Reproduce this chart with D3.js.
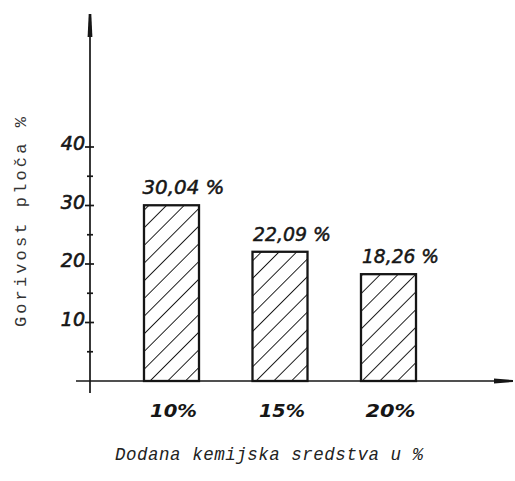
<!DOCTYPE html>
<html><head><meta charset="utf-8">
<script src="https://cdn.jsdelivr.net/npm/d3@7"></script>
<style>html,body{margin:0;padding:0;background:#fff;}svg{display:block;}</style>
</head><body>
<script>
const categories = ["10%", "15%", "20%"];
const values = [30.04, 22.09, 18.26];
const valueLabels = ["30,04 %", "22,09 %", "18,26 %"];
const majorTicks = [10, 20, 30, 40];
const minorTicks = [5, 15, 25, 35];
const xTitle = "Dodana kemijska sredstva u %";
const yTitle = "Gorivost ploča  %";

const W = 515, H = 481;
const ink = "#161616";
const svg = d3.select("body").append("svg").attr("width", W).attr("height", H);

const y = d3.scaleLinear().domain([0, 40]).range([381, 147]);
const x = d3.scaleBand().domain(categories).range([90.5, 469.5]).paddingInner(0.493).paddingOuter(0.493);
const axisX = 90;

// hatch pattern
const defs = svg.append("defs");
const pat = defs.append("pattern").attr("id", "hatch").attr("patternUnits", "userSpaceOnUse")
  .attr("width", 12.5).attr("height", 12.5).attr("patternTransform", "rotate(45)");
pat.append("line").attr("x1", 0).attr("y1", 0).attr("x2", 0).attr("y2", 12.5)
  .attr("stroke", ink).attr("stroke-width", 1.9);

// bars
svg.selectAll("rect.bar").data(values).join("rect").attr("class", "bar")
  .attr("x", (d, i) => x(categories[i]))
  .attr("y", d => y(d))
  .attr("width", x.bandwidth())
  .attr("height", d => y(0) - y(d))
  .attr("fill", "url(#hatch)")
  .attr("stroke", ink).attr("stroke-width", 2.3);

// value labels
const labW = [82, 78, 77];
svg.selectAll("text.val").data(values).join("text").attr("class", "val")
  .attr("x", (d, i) => x(categories[i]) + x.bandwidth() / 2 + 12)
  .attr("y", d => y(d) - 11)
  .attr("text-anchor", "middle")
  .attr("font-family", "DejaVu Sans")
  .attr("font-style", "italic")
  .attr("font-size", 19)
  .attr("fill", ink).attr("stroke", ink).attr("stroke-width", 0.5)
  .attr("textLength", (d, i) => labW[i])
  .attr("lengthAdjust", "spacingAndGlyphs")
  .text((d, i) => valueLabels[i]);

// x axis line
svg.append("line").attr("x1", 76).attr("x2", 512).attr("y1", y(0)).attr("y2", y(0))
  .attr("stroke", ink).attr("stroke-width", 1.7);
svg.append("path").attr("d", `M494,${y(0) - 2.4} L513,${y(0) - 1} L513,${y(0) + 1} L494,${y(0) + 2.4} Z`).attr("fill", ink);

// y axis line
svg.append("line").attr("x1", axisX).attr("x2", axisX).attr("y1", 14).attr("y2", 393)
  .attr("stroke", ink).attr("stroke-width", 1.7);
svg.append("path").attr("d", `M${axisX - 2.4},37 L${axisX - 1.3},14 L${axisX + 1.3},14 L${axisX + 2.4},37 Z`).attr("fill", ink);

// ticks
svg.selectAll("line.maj").data(majorTicks).join("line").attr("class", "maj")
  .attr("x1", axisX - 5).attr("x2", axisX + 4).attr("y1", d => y(d)).attr("y2", d => y(d))
  .attr("stroke", ink).attr("stroke-width", 1.7);
svg.selectAll("line.min").data(minorTicks).join("line").attr("class", "min")
  .attr("x1", axisX - 3).attr("x2", axisX + 3).attr("y1", d => y(d)).attr("y2", d => y(d))
  .attr("stroke", ink).attr("stroke-width", 1.7);
svg.selectAll("text.ytick").data(majorTicks).join("text").attr("class", "ytick")
  .attr("x", axisX - 5).attr("y", d => y(d) + 3)
  .attr("text-anchor", "end")
  .attr("font-family", "DejaVu Sans").attr("font-style", "italic")
  .attr("font-size", 19).attr("fill", ink).attr("stroke", ink).attr("stroke-width", 0.6)
  .text(d => d);

// x tick labels
const xlabW = [47, 46, 50];
svg.selectAll("text.xtick").data(categories).join("text").attr("class", "xtick")
  .attr("x", d => x(d) + x.bandwidth() / 2 + 2)
  .attr("y", 417)
  .attr("text-anchor", "middle")
  .attr("font-family", "DejaVu Sans").attr("font-style", "italic").attr("font-weight", "bold")
  .attr("font-size", 18).attr("fill", ink)
  .attr("textLength", (d, i) => xlabW[i]).attr("lengthAdjust", "spacingAndGlyphs")
  .text(d => d);

// axis titles
svg.append("text").attr("x", 115).attr("y", 460)
  .attr("font-family", "Liberation Mono").attr("font-style", "italic")
  .attr("font-size", 17.5).attr("fill", "#222")
  .attr("textLength", 308).attr("lengthAdjust", "spacing")
  .text(xTitle);
svg.append("text").attr("transform", "translate(26,327) rotate(-90)")
  .attr("font-family", "Liberation Mono")
  .attr("font-size", 17).attr("fill", "#333")
  .attr("textLength", 210).attr("lengthAdjust", "spacing")
  .text(yTitle);
</script>
</body></html>
